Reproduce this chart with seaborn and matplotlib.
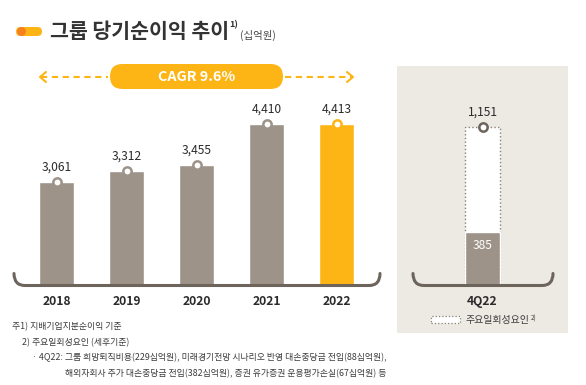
import matplotlib
matplotlib.use("Agg")
import matplotlib.pyplot as plt
import matplotlib.patches as mpatches
from matplotlib.path import Path
from matplotlib.transforms import IdentityTransform
import seaborn as sns
import pandas as pd

# ---- data ----
years = ["2018", "2019", "2020", "2021", "2022"]
net_income = [3061, 3312, 3455, 4410, 4413]
value_labels = ["3,061", "3,312", "3,455", "4,410", "4,413"]
q_label = ["4Q22"]
q_total = [1151]
q_recurring = [385]
cagr_text = "CAGR 9.6%"
title = "그룹 당기순이익 추이"
unit = "(십억원)"
legend_text = "주요일회성요인"
notes = [
    "주1) 지배기업지분순이익 기준",
    "2) 주요일회성요인 (세후기준)",
    "· 4Q22: 그룹 희망퇴직비용(229십억원), 미래경기전망 시나리오 반영 대손충당금 전입(88십억원),",
    "해외자회사 추가 대손충당금 전입(382십억원), 증권 유가증권 운용평가손실(67십억원) 등",
]

GREY = "#9D9389"
YELLOW = "#FDB515"
ORANGE = "#F5821F"
PANEL = "#EDEAE4"
BRACKET = "#6D645C"
DARK = "#2B2B2B"
TXT = "#3C3C3C"

sns.set_theme(style="white")
plt.rcParams["font.family"] = ["Noto Sans CJK KR", "DejaVu Sans"]

W, H = 586, 385
fig = plt.figure(figsize=(W / 100, H / 100), dpi=100)
fig.patch.set_facecolor("white")
ID = IdentityTransform()


def fx(px):
    return px / W


def fy(py):
    return 1 - py / H


def dy(py):
    return H - py


# right panel background
fig.add_artist(mpatches.Rectangle((397, dy(333)), 171, 267, transform=ID,
                                  facecolor=PANEL, edgecolor="none", zorder=0))

# ---- left axes ----
base_px = 285.5
top_px = 60
x_left, x_right = 14, 380
c0 = 56.5
step = 70.0
ax = fig.add_axes([fx(x_left), fy(base_px), fx(x_right - x_left), (base_px - top_px) / H])
ax.set_facecolor("none")
px_per_unit = 0.0428
ybot = 647
ytop = ybot + (base_px - top_px) / px_per_unit
df = pd.DataFrame({"year": years, "value": net_income})
sns.barplot(data=df, x="year", y="value", hue="year",
            palette=[GREY] * 4 + [YELLOW], width=0.5, ax=ax, legend=False,
            saturation=1)
ax.set_xlim(-(c0 - x_left) / step, (x_right - c0) / step)
ax.set_ylim(ybot, ytop)
ax.axis("off")
for i, (v, lab) in enumerate(zip(net_income, value_labels)):
    ec = YELLOW if i == len(years) - 1 else GREY
    ax.plot(i, v, "o", ms=6, mfc="white", mec=ec, mew=1.8, zorder=5, clip_on=False)
    ax.annotate(lab, (i, v), xytext=(0, 6.5), textcoords="offset points",
                ha="center", va="bottom", fontsize=8.7, color=DARK, fontweight="medium")
    ax.annotate(years[i], (i, ybot), xytext=(0, -7), textcoords="offset points",
                ha="center", va="top", fontsize=8.7, color=DARK, fontweight="bold",
                annotation_clip=False)

# ---- right axes ----
rx_left, rx_right = 413, 553
rc = 482.5
rax = fig.add_axes([fx(rx_left), fy(base_px), fx(rx_right - rx_left), (base_px - top_px) / H])
rax.set_facecolor("none")
r_ppu = 0.1380
r_top = (base_px - top_px) / r_ppu
rdf = pd.DataFrame({"q": q_label, "total": q_total, "rec": q_recurring})
sns.barplot(data=rdf, x="q", y="total", color="white", width=0.5, ax=rax,
            saturation=1, edgecolor="#8A8178", linestyle=":", linewidth=1.0)
sns.barplot(data=rdf, x="q", y="rec", color=GREY, width=0.5, ax=rax, saturation=1)
rax.set_xlim(-(rc - rx_left) / step, (rx_right - rc) / step)
rax.set_ylim(0, r_top)
rax.axis("off")
rax.plot(0, q_total[0], "o", ms=6, mfc="white", mec=BRACKET, mew=1.8, zorder=5, clip_on=False)
rax.annotate(f"{q_total[0]:,}", (0, q_total[0]), xytext=(0, 6), textcoords="offset points",
             ha="center", va="bottom", fontsize=8.7, color=DARK, fontweight="medium")
rax.annotate(f"{q_recurring[0]:,}", (0, q_recurring[0]), xytext=(0, -5), textcoords="offset points",
             ha="center", va="top", fontsize=8.7, color="white")
rax.annotate(q_label[0], (0, 0), xytext=(0, -7), textcoords="offset points",
             ha="center", va="top", fontsize=8.7, color=DARK, fontweight="bold",
             annotation_clip=False)


# ---- brackets ----
def bracket(x0, x1, yb, h=12, r=11):
    verts = [(x0, dy(yb - h)), (x0, dy(yb)), (x0 + r, dy(yb)),
             (x1 - r, dy(yb)), (x1, dy(yb)), (x1, dy(yb - h))]
    codes = [Path.MOVETO, Path.CURVE3, Path.CURVE3, Path.LINETO, Path.CURVE3, Path.CURVE3]
    fig.add_artist(mpatches.PathPatch(Path(verts, codes), transform=ID, fill=False,
                                      edgecolor=BRACKET, lw=2.2, capstyle="round", zorder=6))


bracket(14, 380, base_px)
bracket(413, 553, base_px)

# ---- CAGR banner ----
fig.add_artist(mpatches.FancyBboxPatch((110, dy(89)), 173, 25, transform=ID,
                                       boxstyle="round,pad=0,rounding_size=12.5",
                                       facecolor=YELLOW, edgecolor="none", zorder=3))
fig.text(fx(196.5), fy(77), cagr_text, ha="center", va="center", color="white",
         fontsize=10.3, fontweight="bold")
for xa, xb in [(41, 108), (285, 352)]:
    fig.add_artist(plt.Line2D([xa, xb], [dy(77), dy(77)], transform=ID, color=YELLOW,
                              lw=1.5, linestyle=(0, (3, 2.2))))
fig.add_artist(plt.Line2D([46, 40, 46], [dy(72), dy(77), dy(82)], transform=ID,
                          color=YELLOW, lw=1.5))
fig.add_artist(plt.Line2D([347, 353, 347], [dy(72), dy(77), dy(82)], transform=ID,
                          color=YELLOW, lw=1.5))

# ---- title ----
fig.add_artist(mpatches.FancyBboxPatch((16, dy(36)), 26, 9, transform=ID,
                                       boxstyle="round,pad=0,rounding_size=4.5",
                                       facecolor=YELLOW, edgecolor="none"))
fig.add_artist(mpatches.Circle((21.5, dy(31.5)), 4.5, transform=ID, facecolor=ORANGE,
                               edgecolor="none"))
fig.text(fx(50), fy(32), title, ha="left", va="center", fontsize=14.8,
         fontweight="bold", color="#333333")
fig.text(fx(229), fy(25), "1)", ha="left", va="center", fontsize=6.5,
         fontweight="bold", color="#333333")
fig.text(fx(240), fy(35), unit, ha="left", va="center", fontsize=7.5, color="#444444")

# ---- legend in panel ----
fig.add_artist(mpatches.Rectangle((431, dy(323)), 29, 7, transform=ID, facecolor="white",
                                  edgecolor="#8A8178", linestyle=":", lw=0.9))
t_leg = fig.text(fx(466), fy(320), legend_text, ha="left", va="center", fontsize=7.2, color=TXT)
rax.annotate("2)", xy=(1, 1), xycoords=t_leg, xytext=(1, 0), textcoords="offset points",
             ha="left", va="top", fontsize=4.5, color=TXT, annotation_clip=False)

# ---- footnotes ----
note_pos = [(12, 327), (22, 343), (32, 358), (65, 374)]
for (x, y), t in zip(note_pos, notes):
    fig.text(fx(x), fy(y), t, ha="left", va="center", fontsize=6.4, color=TXT)

fig.savefig("out.png", dpi=100)
